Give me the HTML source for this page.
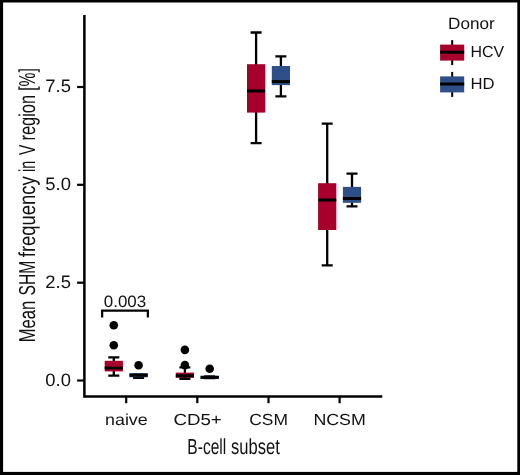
<!DOCTYPE html>
<html lang="en"><head><meta charset="utf-8"><title>Mean SHM frequency by B-cell subset</title>
<style>html,body{margin:0;padding:0;background:#fff}svg{display:block}text{fill:#111;text-rendering:geometricPrecision}</style></head>
<body><svg width="520" height="475" viewBox="0 0 520 475">
<rect x="0" y="0" width="520" height="475" fill="#000"/>
<rect x="3.1" y="2.5" width="514.1999999999999" height="469.4" fill="#fff"/>
<path d="M84.4 15V396.5H382.3" fill="none" stroke="#000" stroke-width="2.5"/>
<path d="M77.1 380.5H84" stroke="#000" stroke-width="2.2"/>
<path d="M77.1 282.7H84" stroke="#000" stroke-width="2.2"/>
<path d="M77.1 184.8H84" stroke="#000" stroke-width="2.2"/>
<path d="M77.1 87.0H84" stroke="#000" stroke-width="2.2"/>
<path d="M126.2 396.5V403.2" stroke="#000" stroke-width="2.2"/>
<path d="M197.3 396.5V403.2" stroke="#000" stroke-width="2.2"/>
<path d="M268.5 396.5V403.2" stroke="#000" stroke-width="2.2"/>
<path d="M339.6 396.5V403.2" stroke="#000" stroke-width="2.2"/>
<path d="M113.8 357.4V375.6M108.3 357.4h11M108.3 375.6h11" stroke="#000" stroke-width="2.3" fill="none"/>
<rect x="104.7" y="360.8" width="18.2" height="10.6" fill="#A7002C"/>
<path d="M104.7 368.0h18.2" stroke="#000" stroke-width="2.8"/>
<circle cx="113.8" cy="325.2" r="4.3" fill="#000"/>
<circle cx="113.8" cy="345.2" r="4.3" fill="#000"/>
<path d="M138.6 374.5V377.9M133.1 374.5h11M133.1 377.9h11" stroke="#000" stroke-width="2.3" fill="none"/>
<rect x="129.5" y="373.1" width="18.2" height="4.2" fill="#2F4F89"/>
<path d="M129.5 375.2h18.2" stroke="#000" stroke-width="3.0"/>
<circle cx="138.6" cy="365.3" r="4.3" fill="#000"/>
<path d="M184.9 367.3V378.9M179.4 367.3h11M179.4 378.9h11" stroke="#000" stroke-width="2.3" fill="none"/>
<rect x="175.8" y="372.6" width="18.2" height="5.1" fill="#A7002C"/>
<path d="M175.8 375.9h18.2" stroke="#000" stroke-width="3.2"/>
<circle cx="184.9" cy="349.9" r="4.3" fill="#000"/>
<circle cx="184.9" cy="365.1" r="4.3" fill="#000"/>
<path d="M209.7 376.5V378.0M204.2 376.5h11M204.2 378.0h11" stroke="#000" stroke-width="2.3" fill="none"/>
<rect x="200.6" y="375.7" width="18.2" height="3.3" fill="#2F4F89"/>
<path d="M200.6 377.4h18.2" stroke="#000" stroke-width="3.0"/>
<circle cx="209.7" cy="368.8" r="4.3" fill="#000"/>
<path d="M256.1 32.5V143.1M250.6 32.5h11M250.6 143.1h11" stroke="#000" stroke-width="2.3" fill="none"/>
<rect x="247.0" y="64.2" width="18.2" height="48.4" fill="#A7002C"/>
<path d="M247.0 91.0h18.2" stroke="#000" stroke-width="3.0"/>
<path d="M280.9 56.3V96.3M275.4 56.3h11M275.4 96.3h11" stroke="#000" stroke-width="2.3" fill="none"/>
<rect x="271.8" y="66.0" width="18.2" height="19.1" fill="#2F4F89"/>
<path d="M271.8 81.6h18.2" stroke="#000" stroke-width="3.0"/>
<path d="M327.2 123.6V265.4M321.7 123.6h11M321.7 265.4h11" stroke="#000" stroke-width="2.3" fill="none"/>
<rect x="318.1" y="183.2" width="18.2" height="46.8" fill="#A7002C"/>
<path d="M318.1 200.0h18.2" stroke="#000" stroke-width="3.0"/>
<path d="M352.0 173.7V206.4M346.5 173.7h11M346.5 206.4h11" stroke="#000" stroke-width="2.3" fill="none"/>
<rect x="342.9" y="186.9" width="18.2" height="15.9" fill="#2F4F89"/>
<path d="M342.9 198.5h18.2" stroke="#000" stroke-width="3.0"/>
<path d="M102.15 317.6V310.7H147.85V317.6" fill="none" stroke="#000" stroke-width="2.2"/>
<text x="103.8" y="306.6" font-size="16.4" textLength="42.4" lengthAdjust="spacingAndGlyphs" font-family="Liberation Sans, Arial, Helvetica, sans-serif">0.003</text>
<text x="45.3" y="385.8" font-size="18" textLength="25.6" lengthAdjust="spacingAndGlyphs" font-family="Liberation Sans, Arial, Helvetica, sans-serif">0.0</text>
<text x="45.3" y="288.0" font-size="18" textLength="25.6" lengthAdjust="spacingAndGlyphs" font-family="Liberation Sans, Arial, Helvetica, sans-serif">2.5</text>
<text x="45.3" y="190.1" font-size="18" textLength="25.6" lengthAdjust="spacingAndGlyphs" font-family="Liberation Sans, Arial, Helvetica, sans-serif">5.0</text>
<text x="45.3" y="92.3" font-size="18" textLength="25.6" lengthAdjust="spacingAndGlyphs" font-family="Liberation Sans, Arial, Helvetica, sans-serif">7.5</text>
<text x="105.10" y="424.8" font-size="16" textLength="42.60" lengthAdjust="spacingAndGlyphs" font-family="Liberation Sans, Arial, Helvetica, sans-serif">naive</text>
<text x="173.40" y="424.8" font-size="16" textLength="48.40" lengthAdjust="spacingAndGlyphs" font-family="Liberation Sans, Arial, Helvetica, sans-serif">CD5+</text>
<text x="249.30" y="424.8" font-size="16" textLength="38.70" lengthAdjust="spacingAndGlyphs" font-family="Liberation Sans, Arial, Helvetica, sans-serif">CSM</text>
<text x="313.40" y="424.8" font-size="16" textLength="52.40" lengthAdjust="spacingAndGlyphs" font-family="Liberation Sans, Arial, Helvetica, sans-serif">NCSM</text>
<text x="187.37" y="454.2" font-size="21.8" textLength="38.81" lengthAdjust="spacingAndGlyphs" font-family="Liberation Sans, Arial, Helvetica, sans-serif">B-cell</text>
<text x="231.06" y="454.2" font-size="21.8" textLength="48.71" lengthAdjust="spacingAndGlyphs" font-family="Liberation Sans, Arial, Helvetica, sans-serif">subset</text>
<text transform="translate(34.7 342.30) rotate(-90)" font-size="23.0" textLength="41.60" lengthAdjust="spacingAndGlyphs" font-family="Liberation Sans, Arial, Helvetica, sans-serif">Mean</text>
<text transform="translate(34.7 295.47) rotate(-90)" font-size="23.0" textLength="34.64" lengthAdjust="spacingAndGlyphs" font-family="Liberation Sans, Arial, Helvetica, sans-serif">SHM</text>
<text transform="translate(34.7 257.20) rotate(-90)" font-size="23.0" textLength="80.90" lengthAdjust="spacingAndGlyphs" font-family="Liberation Sans, Arial, Helvetica, sans-serif">frequency</text>
<text transform="translate(34.7 172.06) rotate(-90)" font-size="23.0" textLength="11.24" lengthAdjust="spacingAndGlyphs" font-family="Liberation Sans, Arial, Helvetica, sans-serif">in</text>
<text transform="translate(34.7 155.08) rotate(-90)" font-size="23.0" textLength="10.40" lengthAdjust="spacingAndGlyphs" font-family="Liberation Sans, Arial, Helvetica, sans-serif">V</text>
<text transform="translate(34.7 140.54) rotate(-90)" font-size="23.0" textLength="45.55" lengthAdjust="spacingAndGlyphs" font-family="Liberation Sans, Arial, Helvetica, sans-serif">region</text>
<text transform="translate(34.7 90.80) rotate(-90)" font-size="23.0" textLength="22.53" lengthAdjust="spacingAndGlyphs" font-family="Liberation Sans, Arial, Helvetica, sans-serif">[%]</text>
<text x="448.1" y="28.5" font-size="16.5" textLength="46.6" lengthAdjust="spacingAndGlyphs" font-family="Liberation Sans, Arial, Helvetica, sans-serif">Donor</text>
<path d="M452.2 40.1V65.1" stroke="#000" stroke-width="2"/>
<rect x="440.1" y="44.6" width="24.1" height="16" fill="#A7002C"/>
<path d="M440.1 52.2h24.1" stroke="#000" stroke-width="3"/>
<text x="470.5" y="56.9" font-size="16" textLength="33.7" lengthAdjust="spacingAndGlyphs" font-family="Liberation Sans, Arial, Helvetica, sans-serif">HCV</text>
<path d="M452.2 71.9V96.9" stroke="#000" stroke-width="2"/>
<rect x="440.1" y="76.4" width="24.1" height="16" fill="#2F4F89"/>
<path d="M440.1 84.0h24.1" stroke="#000" stroke-width="3"/>
<text x="470.5" y="88.7" font-size="16" textLength="24.1" lengthAdjust="spacingAndGlyphs" font-family="Liberation Sans, Arial, Helvetica, sans-serif">HD</text>
</svg></body></html>
